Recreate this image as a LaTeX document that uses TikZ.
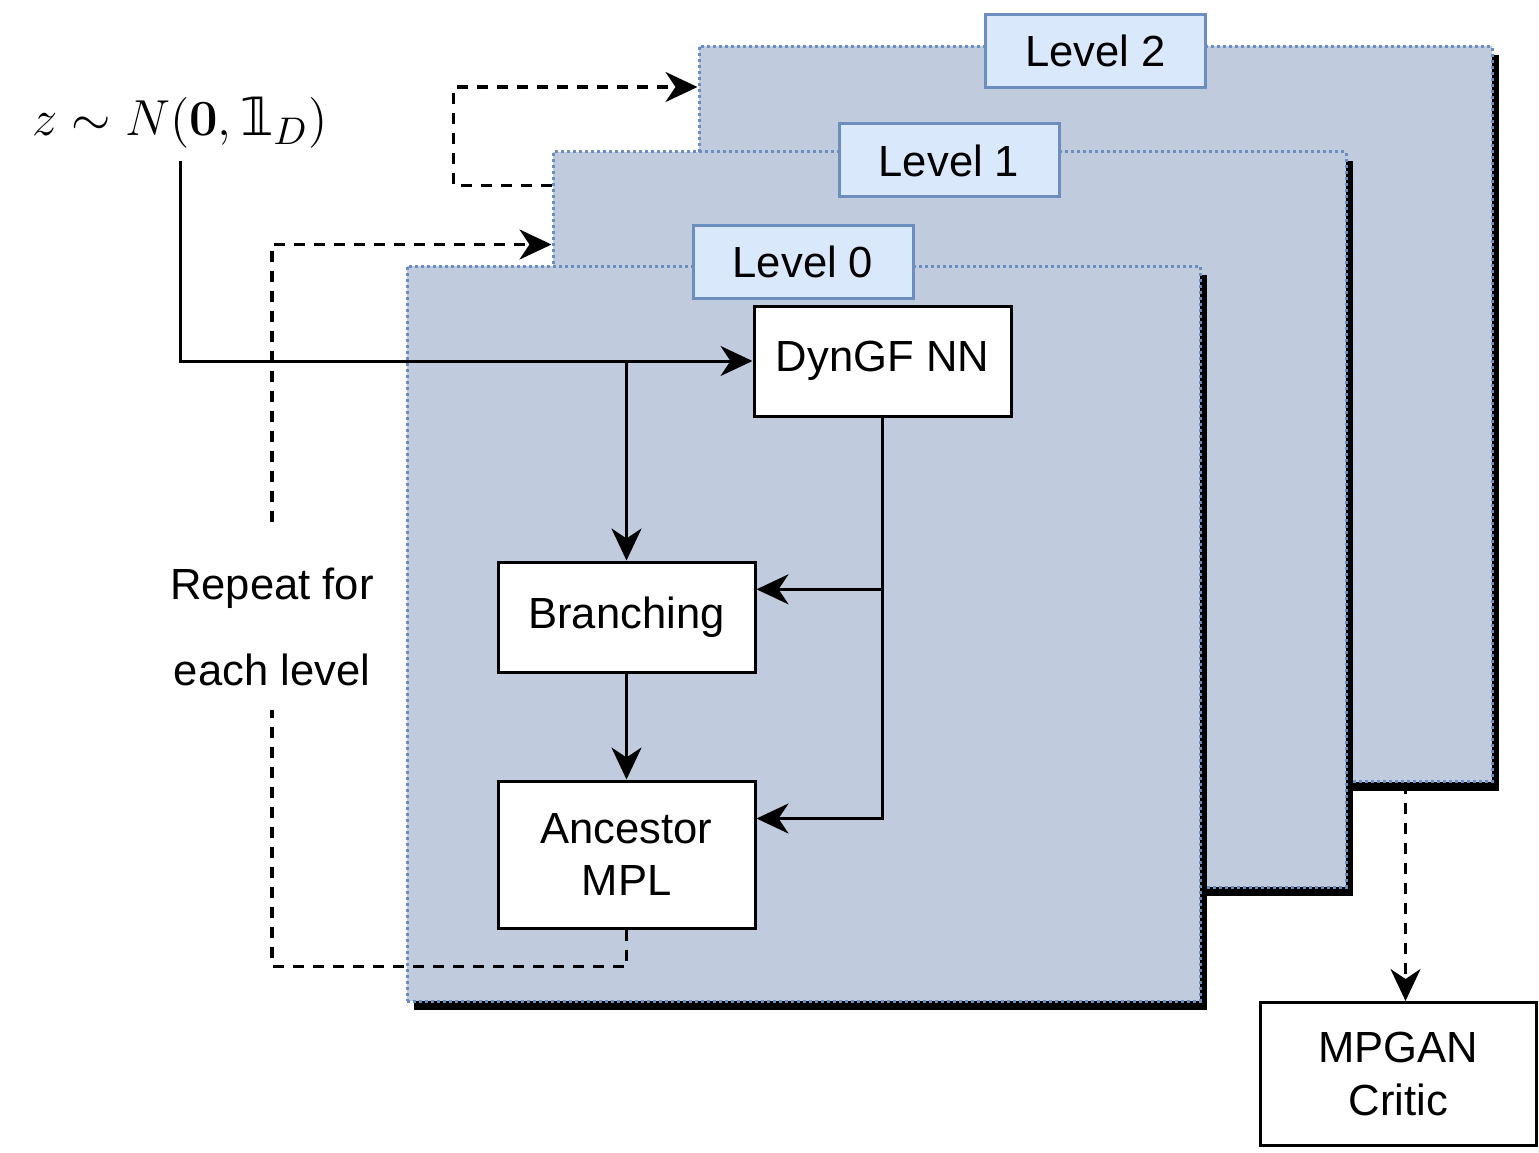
\documentclass[tikz,border=0pt]{standalone}
\usepackage[no-math]{fontspec}
\setmainfont{Liberation Sans}
\newfontfamily\dvsans{DejaVu Sans}
\newcommand{\idone}{\mbox{\dvsans 𝟙}}
\usetikzlibrary{arrows.meta,shadows,calc}
\definecolor{panelfill}{HTML}{C0CBDE}
\definecolor{paneldraw}{HTML}{6C8EBF}
\definecolor{levelfill}{HTML}{DAE8FC}
\begin{document}
\begin{tikzpicture}[line width=0.03cm,
      >={Stealth[length=0.32cm, width=0.3cm, inset=0.1cm]},
      every node/.style={font=\fontsize{12.4}{15}\selectfont},
      panel/.style={draw=paneldraw, fill=panelfill, dash pattern=on 0.03cm off 0.03cm,
        minimum width=7.93cm, minimum height=7.35cm, inner sep=0pt,
        drop shadow={shadow xshift=0.07cm, shadow yshift=-0.09cm, fill=black, opacity=1}},
      levelbox/.style={draw=paneldraw, fill=levelfill, minimum width=2.2cm, minimum height=0.73cm, inner sep=0pt},
      block/.style={draw, fill=white, minimum width=2.57cm, minimum height=1.1cm, align=center, inner sep=0pt},
      repeatline/.style={dash pattern=on 0.11cm off 0.09cm, line width=0.032cm}
    ]
    \useasboundingbox (0,0) rectangle (15.39,-11.52);

    % the three stacked levels
    \node[panel] (P2) at (10.955,-4.14) {};
    \node[levelbox] (L2) at (10.955,-0.51) {Level 2};
    \node[panel] (P1) at (9.495,-5.195) {};
    \node[levelbox] (L1) at (9.49,-1.605) {Level 1};
    \node[panel] (P0) at (8.035,-6.335) {};
    \node[levelbox] (L0) at (8.03,-2.615) {Level 0};

    \node[block] (dyn) at (8.825,-3.61) {DynGF NN};
    \node[block] (branch) at (6.265,-6.17) {Branching};
    \node[block, minimum height=1.47cm] (anc) at (6.265,-8.545) {Ancestor\\MPL};
    \node[block, minimum width=2.76cm, minimum height=1.43cm] (critic) at (13.985,-10.74) {MPGAN\\Critic};

    \node[font=\fontsize{15}{18}\selectfont, inner sep=3pt] (z) at (1.8,-1.23) {$z \sim N(\mathbf{0},\idone_D)$};
    \node[align=center, font=\fontsize{12.4}{24.7}\selectfont] (rep) at (2.72,-6.27) {Repeat for\\each level};
    \coordinate (repN) at (2.72,-5.22);
    \coordinate (repS) at (2.72,-7.10);

    \coordinate (binB) at ($(branch.north east)!0.255!(branch.south east)$);
    \coordinate (binA) at ($(anc.north east)!0.26!(anc.south east)$);
    \coordinate (cin) at ($(critic.north)+(0.07,0)$);

    \draw[->] (z.south) |- (dyn.west);
    \draw[->] (branch.north |- dyn.west) -- (branch.north);
    \draw[->] (dyn.south) |- (binA);
    \draw[->] (dyn.south |- binB) -- (binB);
    \draw[->] (branch.south) -- (anc.north);

    \draw[repeatline] (anc.south) -- ++(0,-0.37) -| (repS);
    \draw[repeatline, ->] (repN) |- ($(P1.north west)+(0,-0.94)$);
    \draw[repeatline, ->] ($(P1.north west)+(0,-0.35)$) -- ++(-0.98,0) |- ($(P2.north west)+(0,-0.42)$);
    \draw[repeatline, ->] (cin |- P2.south) -- (cin);

    \end{tikzpicture}
\end{document}
